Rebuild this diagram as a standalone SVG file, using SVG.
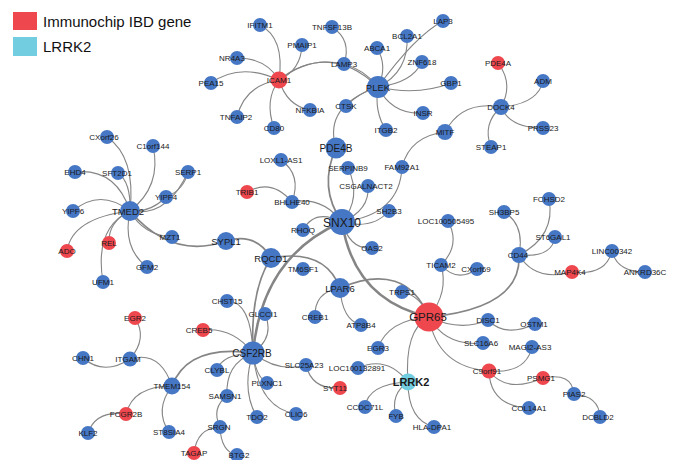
<svg xmlns="http://www.w3.org/2000/svg" width="673" height="460" viewBox="0 0 673 460">
<style>
.e{fill:none;stroke:#858585;stroke-width:1.1}
.m{stroke-width:1.7}
.t{stroke-width:2.5}
.b{fill:#4677c4}
.r{fill:#ee474e}
.c{fill:#72cde0}
text{font-family:"Liberation Sans",Arial,sans-serif;font-size:8px;fill:#1a1a1a;text-anchor:middle}
.lg{font-size:15px;text-anchor:start;fill:#111}
.l9{font-size:9.5px}
.l10{font-size:10px}
.l12{font-size:12px}
.l11{font-size:11.5px}
.bold{font-size:11px;font-weight:bold}
</style>
<rect width="673" height="460" fill="#ffffff"/>
<g id="legend">
<rect x="13" y="12" width="24" height="18" fill="#ee474e"/>
<text class="lg" x="43" y="27">Immunochip IBD gene</text>
<rect x="13" y="37" width="24" height="19" fill="#72cde0"/>
<text class="lg" x="43" y="52">LRRK2</text>
</g>
<g id="edges">
<path class="e" d="M260,25 Q285,38 279,80"/>
<path class="e" d="M302,45 Q301,70 279,80"/>
<path class="e" d="M237,58 Q266,58 279,80"/>
<path class="e" d="M211,83 Q240,62 279,80"/>
<path class="e" d="M237,117 Q245,85 279,80"/>
<path class="e" d="M274,128 Q264,100 279,80"/>
<path class="e" d="M279,80 Q287,106 310,110"/>
<path class="e" d="M279,80 Q308,56 344,64"/>
<path class="e" d="M279,80 Q330,41 378,87"/>
<path class="e" d="M344,64 Q365,70 378,87"/>
<path class="e" d="M332,27 Q352,40 344,64"/>
<path class="e" d="M377,48 Q388,66 378,87"/>
<path class="e" d="M407,36 Q409,72 378,87"/>
<path class="e" d="M422,62 Q412,83 378,87"/>
<path class="e" d="M443,21 Q415,36 378,87"/>
<path class="e" d="M378,87 Q418,96 451,83"/>
<path class="e" d="M378,87 Q392,115 423,113"/>
<path class="e" d="M378,87 Q374,112 386,130"/>
<path class="e" d="M346,106 Q360,92 378,87"/>
<path class="e" d="M336,148 Q323,106 378,87"/>
<path class="e" d="M498,63 Q514,84 501,107"/>
<path class="e" d="M543,81 Q538,104 501,107"/>
<path class="e" d="M501,107 Q510,128 543,128"/>
<path class="e" d="M501,107 Q482,124 491,147"/>
<path class="e" d="M445,132 Q462,100 501,107"/>
<path class="e" d="M445,132 Q410,136 402,167"/>
<path class="e" d="M402,167 Q400,215 342,222"/>
<path class="e m" d="M336,148 Q318,188 342,222"/>
<path class="e" d="M348,168 Q362,198 342,222"/>
<path class="e" d="M368,186 Q370,210 342,222"/>
<path class="e" d="M389,211 Q372,230 342,222"/>
<path class="e" d="M292,202 Q322,196 342,222"/>
<path class="e" d="M303,230 Q315,208 342,222"/>
<path class="e" d="M342,222 Q350,250 372,248"/>
<path class="e t" d="M342,222 Q354,300 429,317"/>
<path class="e t" d="M342,222 Q262,256 253,353"/>
<path class="e m" d="M271,258 Q250,290 253,353"/>
<path class="e" d="M281,160 Q302,175 292,202"/>
<path class="e" d="M247,192 Q272,178 292,202"/>
<path class="e m" d="M226,241 Q256,232 271,258"/>
<path class="e m" d="M130,211 Q172,260 226,241"/>
<path class="e m" d="M271,258 Q325,248 340,288"/>
<path class="e" d="M340,288 Q314,292 315,317"/>
<path class="e" d="M340,288 Q342,320 361,325"/>
<path class="e m" d="M340,288 Q405,260 429,317"/>
<path class="e" d="M402,292 Q420,295 429,317"/>
<path class="e" d="M441,265 Q449,292 429,317"/>
<path class="e m" d="M429,317 Q522,308 519,255"/>
<path class="e" d="M429,317 Q460,332 488,320"/>
<path class="e" d="M488,320 Q505,338 535,324"/>
<path class="e" d="M429,317 Q446,347 483,343"/>
<path class="e" d="M429,317 Q437,367 489,371"/>
<path class="e" d="M429,317 Q388,320 378,348"/>
<path class="e" d="M429,317 Q404,330 408,382"/>
<path class="e" d="M489,371 Q526,374 532,347"/>
<path class="e" d="M489,371 Q507,394 543,378"/>
<path class="e" d="M489,371 Q490,406 529,408"/>
<path class="e" d="M543,378 Q572,372 574,394"/>
<path class="e" d="M574,394 Q599,396 600,417"/>
<path class="e" d="M358,368 Q387,355 408,382"/>
<path class="e" d="M365,407 Q368,384 408,382"/>
<path class="e" d="M396,416 Q390,394 408,382"/>
<path class="e" d="M408,382 Q408,420 434,427"/>
<path class="e" d="M253,353 Q278,373 306,365"/>
<path class="e" d="M306,365 Q312,390 340,388"/>
<path class="e" d="M227,301 Q251,301 253,353"/>
<path class="e" d="M265,314 Q275,337 253,353"/>
<path class="e" d="M203,330 Q233,327 253,353"/>
<path class="e m" d="M172,386 Q188,344 253,353"/>
<path class="e" d="M217,370 Q222,354 253,353"/>
<path class="e" d="M227,396 Q225,364 253,353"/>
<path class="e" d="M253,353 Q256,377 267,383"/>
<path class="e" d="M253,353 Q241,390 257,417"/>
<path class="e" d="M253,353 Q258,408 296,414"/>
<path class="e" d="M227,396 Q211,408 220,427"/>
<path class="e" d="M220,427 Q197,428 194,453"/>
<path class="e" d="M220,427 Q221,452 237,455"/>
<path class="e" d="M130,359 Q160,350 172,386"/>
<path class="e" d="M172,386 Q133,386 126,414"/>
<path class="e" d="M172,386 Q154,410 169,432"/>
<path class="e" d="M135,318 Q148,338 130,359"/>
<path class="e" d="M83,358 Q104,376 130,359"/>
<path class="e" d="M126,414 Q96,410 88,433"/>
<path class="e" d="M107,137 Q136,157 130,211"/>
<path class="e" d="M153,146 Q162,186 130,211"/>
<path class="e" d="M75,172 Q116,168 130,211"/>
<path class="e" d="M118,173 Q131,182 130,211"/>
<path class="e" d="M188,172 Q184,190 166,197"/>
<path class="e" d="M166,197 Q150,213 130,211"/>
<path class="e" d="M188,172 Q167,218 130,211"/>
<path class="e" d="M73,211 Q100,188 130,211"/>
<path class="e" d="M130,211 Q143,235 172,237"/>
<path class="e" d="M67,251 Q72,218 130,211"/>
<path class="e" d="M109,243 Q108,222 130,211"/>
<path class="e" d="M103,282 Q94,228 130,211"/>
<path class="e" d="M147,267 Q122,248 130,211"/>
<path class="e" d="M448,221 Q461,245 441,265"/>
<path class="e" d="M441,265 Q457,283 477,269"/>
<path class="e" d="M504,212 Q525,225 519,255"/>
<path class="e" d="M549,199 Q556,236 519,255"/>
<path class="e" d="M555,237 Q552,258 519,255"/>
<path class="e" d="M519,255 Q535,282 572,272"/>
<path class="e" d="M572,272 Q606,276 612,251"/>
<path class="e" d="M612,251 Q617,272 645,272"/>
</g>
<g id="IFITM1"><circle class="b" cx="260" cy="25" r="7"/><text x="260" y="28">IFITM1</text></g>
<g id="PMAIP1"><circle class="b" cx="302" cy="45" r="7"/><text x="302" y="48">PMAIP1</text></g>
<g id="NR4A3"><circle class="b" cx="237" cy="58" r="7"/><text x="232" y="61">NR4A3</text></g>
<g id="PEA15"><circle class="b" cx="211" cy="83" r="7"/><text x="211" y="86">PEA15</text></g>
<g id="ICAM1"><circle class="r" cx="279" cy="80" r="8.5"/><text x="279" y="83">ICAM1</text></g>
<g id="TNFAIP2"><circle class="b" cx="237" cy="117" r="7"/><text x="236" y="120">TNFAIP2</text></g>
<g id="CD80"><circle class="b" cx="274" cy="128" r="7"/><text x="274" y="131">CD80</text></g>
<g id="NFKBIA"><circle class="b" cx="310" cy="110" r="7"/><text x="310" y="113">NFKBIA</text></g>
<g id="TNFSF13B"><circle class="b" cx="332" cy="27" r="7"/><text x="332" y="30">TNFSF13B</text></g>
<g id="LAMP3"><circle class="b" cx="344" cy="64" r="7"/><text x="344" y="67">LAMP3</text></g>
<g id="ABCA1"><circle class="b" cx="377" cy="48" r="7"/><text x="377" y="51">ABCA1</text></g>
<g id="BCL2A1"><circle class="b" cx="407" cy="36" r="7"/><text x="407" y="39">BCL2A1</text></g>
<g id="ZNF618"><circle class="b" cx="422" cy="62" r="7"/><text x="422" y="65">ZNF618</text></g>
<g id="PLEK"><circle class="b" cx="378" cy="87" r="11"/><text class="l9" x="378" y="90.5">PLEK</text></g>
<g id="CTSK"><circle class="b" cx="346" cy="106" r="7"/><text x="346" y="109">CTSK</text></g>
<g id="ITGB2"><circle class="b" cx="386" cy="130" r="7"/><text x="386" y="133">ITGB2</text></g>
<g id="INSR"><circle class="b" cx="423" cy="113" r="7"/><text x="423" y="116">INSR</text></g>
<g id="GBP1"><circle class="b" cx="451" cy="83" r="7"/><text x="451" y="86">GBP1</text></g>
<g id="LAP3"><circle class="b" cx="443" cy="21" r="7"/><text x="443" y="24">LAP3</text></g>
<g id="PDE4B"><circle class="b" cx="336" cy="148" r="10.5"/><text class="l10" x="336" y="151.5">PDE4B</text></g>
<g id="PDE4A"><circle class="r" cx="498" cy="63" r="7"/><text x="498" y="66">PDE4A</text></g>
<g id="ADM"><circle class="b" cx="543" cy="81" r="7"/><text x="543" y="84">ADM</text></g>
<g id="DOCK4"><circle class="b" cx="501" cy="107" r="8"/><text x="501" y="110">DOCK4</text></g>
<g id="PRSS23"><circle class="b" cx="543" cy="128" r="7"/><text x="543" y="131">PRSS23</text></g>
<g id="STEAP1"><circle class="b" cx="491" cy="147" r="7"/><text x="491" y="150">STEAP1</text></g>
<g id="MITF"><circle class="b" cx="445" cy="132" r="8"/><text x="445" y="135">MITF</text></g>
<g id="FAM92A1"><circle class="b" cx="402" cy="167" r="7"/><text x="402" y="170">FAM92A1</text></g>
<g id="SERPINB9"><circle class="b" cx="348" cy="168" r="7"/><text x="348" y="171">SERPINB9</text></g>
<g id="CSGALNACT2"><circle class="b" cx="368" cy="186" r="7"/><text x="366" y="189">CSGALNACT2</text></g>
<g id="LOXL1-AS1"><circle class="b" cx="281" cy="160" r="7"/><text x="281" y="163">LOXL1-AS1</text></g>
<g id="TRIB1"><circle class="r" cx="247" cy="192" r="7"/><text x="247" y="195">TRIB1</text></g>
<g id="BHLHE40"><circle class="b" cx="292" cy="202" r="7"/><text x="292" y="205">BHLHE40</text></g>
<g id="SH2B3"><circle class="b" cx="389" cy="211" r="7"/><text x="389" y="214">SH2B3</text></g>
<g id="SNX10"><circle class="b" cx="342" cy="222" r="13"/><text class="l12" x="342" y="226.5">SNX10</text></g>
<g id="RHOQ"><circle class="b" cx="303" cy="230" r="7"/><text x="303" y="233">RHOQ</text></g>
<g id="OAS2"><circle class="b" cx="372" cy="248" r="7"/><text x="372" y="251">OAS2</text></g>
<g id="SYPL1"><circle class="b" cx="226" cy="241" r="9"/><text class="l9" x="226" y="244.5">SYPL1</text></g>
<g id="RQCD1"><circle class="b" cx="271" cy="258" r="10"/><text class="l9" x="271" y="261.5">RQCD1</text></g>
<g id="TM6SF1"><circle class="b" cx="303" cy="269" r="7"/><text x="303" y="272">TM6SF1</text></g>
<g id="LPAR6"><circle class="b" cx="340" cy="288" r="10"/><text class="l9" x="340" y="291.5">LPAR6</text></g>
<g id="TRPS1"><circle class="b" cx="402" cy="292" r="7"/><text x="402" y="295">TRPS1</text></g>
<g id="LOC100505495"><circle class="b" cx="448" cy="221" r="7"/><text x="446" y="224">LOC100505495</text></g>
<g id="TICAM2"><circle class="b" cx="441" cy="265" r="7"/><text x="441" y="268">TICAM2</text></g>
<g id="CXorf69"><circle class="b" cx="477" cy="269" r="7"/><text x="476" y="272">CXorf69</text></g>
<g id="SH3BP5"><circle class="b" cx="504" cy="212" r="7"/><text x="504" y="215">SH3BP5</text></g>
<g id="FCHSD2"><circle class="b" cx="549" cy="199" r="7"/><text x="549" y="202">FCHSD2</text></g>
<g id="ST6GAL1"><circle class="b" cx="555" cy="237" r="7"/><text x="553" y="240">ST6GAL1</text></g>
<g id="CD44"><circle class="b" cx="519" cy="255" r="8"/><text x="518" y="258">CD44</text></g>
<g id="MAP4K4"><circle class="r" cx="572" cy="272" r="7"/><text x="570" y="275">MAP4K4</text></g>
<g id="LINC00342"><circle class="b" cx="612" cy="251" r="7"/><text x="612" y="254">LINC00342</text></g>
<g id="ANKRD36C"><circle class="b" cx="645" cy="272" r="7"/><text x="645" y="275">ANKRD36C</text></g>
<g id="GPR65"><circle class="r" cx="429" cy="317" r="14.5"/><text class="l11" x="428" y="321">GPR65</text></g>
<g id="DISC1"><circle class="b" cx="488" cy="320" r="7"/><text x="488" y="323">DISC1</text></g>
<g id="OSTM1"><circle class="b" cx="535" cy="324" r="7"/><text x="534" y="327">OSTM1</text></g>
<g id="SLC16A6"><circle class="b" cx="483" cy="343" r="7"/><text x="481" y="346">SLC16A6</text></g>
<g id="MAGI2-AS3"><circle class="b" cx="532" cy="347" r="7"/><text x="530" y="350">MAGI2-AS3</text></g>
<g id="C9orf91"><circle class="r" cx="489" cy="371" r="7.5"/><text x="487" y="374">C9orf91</text></g>
<g id="PSMG1"><circle class="r" cx="543" cy="378" r="7"/><text x="541" y="381">PSMG1</text></g>
<g id="PIAS2"><circle class="b" cx="574" cy="394" r="7"/><text x="574" y="397">PIAS2</text></g>
<g id="DCBLD2"><circle class="b" cx="600" cy="417" r="7"/><text x="598" y="420">DCBLD2</text></g>
<g id="COL14A1"><circle class="b" cx="529" cy="408" r="7"/><text x="529" y="411">COL14A1</text></g>
<g id="HLA-DPA1"><circle class="b" cx="434" cy="427" r="7"/><text x="432" y="430">HLA-DPA1</text></g>
<g id="LRRK2"><circle class="c" cx="408" cy="382" r="8.5"/><text class="bold" x="411" y="386">LRRK2</text></g>
<g id="EGR3"><circle class="b" cx="378" cy="348" r="7"/><text x="378" y="351">EGR3</text></g>
<g id="LOC100132891"><circle class="b" cx="358" cy="368" r="7"/><text x="357" y="371">LOC100132891</text></g>
<g id="CCDC71L"><circle class="b" cx="365" cy="407" r="7"/><text x="365" y="410">CCDC71L</text></g>
<g id="FYB"><circle class="b" cx="396" cy="416" r="7"/><text x="396" y="419">FYB</text></g>
<g id="SYT11"><circle class="r" cx="340" cy="388" r="7"/><text x="335" y="391">SYT11</text></g>
<g id="SLC25A23"><circle class="b" cx="306" cy="365" r="7"/><text x="304" y="368">SLC25A23</text></g>
<g id="CREB1"><circle class="b" cx="315" cy="317" r="7"/><text x="315" y="320">CREB1</text></g>
<g id="ATP8B4"><circle class="b" cx="361" cy="325" r="7"/><text x="361" y="328">ATP8B4</text></g>
<g id="CSF2RB"><circle class="b" cx="253" cy="353" r="11.5"/><text class="l10" x="252" y="356.5">CSF2RB</text></g>
<g id="CHST15"><circle class="b" cx="227" cy="301" r="7"/><text x="227" y="304">CHST15</text></g>
<g id="GLCCI1"><circle class="b" cx="265" cy="314" r="7"/><text x="263" y="317">GLCCI1</text></g>
<g id="CREB5"><circle class="r" cx="203" cy="330" r="7"/><text x="199" y="333">CREB5</text></g>
<g id="CLYBL"><circle class="b" cx="217" cy="370" r="7"/><text x="217" y="373">CLYBL</text></g>
<g id="PLXNC1"><circle class="b" cx="267" cy="383" r="7"/><text x="267" y="386">PLXNC1</text></g>
<g id="SAMSN1"><circle class="b" cx="227" cy="396" r="7"/><text x="225" y="399">SAMSN1</text></g>
<g id="TDO2"><circle class="b" cx="257" cy="417" r="7"/><text x="257" y="420">TDO2</text></g>
<g id="CLIC6"><circle class="b" cx="296" cy="414" r="7"/><text x="296" y="417">CLIC6</text></g>
<g id="SRGN"><circle class="b" cx="220" cy="427" r="7"/><text x="219" y="430">SRGN</text></g>
<g id="BTG2"><circle class="b" cx="237" cy="455" r="7"/><text x="239" y="458">BTG2</text></g>
<g id="TAGAP"><circle class="r" cx="194" cy="453" r="7"/><text x="194" y="456">TAGAP</text></g>
<g id="EGR2"><circle class="r" cx="135" cy="318" r="7"/><text x="135" y="321">EGR2</text></g>
<g id="CHN1"><circle class="b" cx="83" cy="358" r="7"/><text x="83" y="361">CHN1</text></g>
<g id="ITGAM"><circle class="b" cx="130" cy="359" r="7.5"/><text x="128" y="362">ITGAM</text></g>
<g id="TMEM154"><circle class="b" cx="172" cy="386" r="8.5"/><text x="172" y="389">TMEM154</text></g>
<g id="FCGR2B"><circle class="r" cx="126" cy="414" r="7"/><text x="126" y="417">FCGR2B</text></g>
<g id="KLF2"><circle class="b" cx="88" cy="433" r="7"/><text x="88" y="436">KLF2</text></g>
<g id="ST8SIA4"><circle class="b" cx="169" cy="432" r="7"/><text x="169" y="435">ST8SIA4</text></g>
<g id="CXorf26"><circle class="b" cx="107" cy="137" r="7"/><text x="104" y="140">CXorf26</text></g>
<g id="C1orf144"><circle class="b" cx="153" cy="146" r="7"/><text x="153" y="149">C1orf144</text></g>
<g id="EHD4"><circle class="b" cx="75" cy="172" r="7"/><text x="75" y="175">EHD4</text></g>
<g id="SFT2D1"><circle class="b" cx="118" cy="173" r="7"/><text x="117" y="176">SFT2D1</text></g>
<g id="SERP1"><circle class="b" cx="188" cy="172" r="7"/><text x="188" y="175">SERP1</text></g>
<g id="YIPF4"><circle class="b" cx="166" cy="197" r="7"/><text x="166" y="200">YIPF4</text></g>
<g id="TMED2"><circle class="b" cx="130" cy="211" r="10"/><text class="l9" x="128" y="214.5">TMED2</text></g>
<g id="YIPF6"><circle class="b" cx="73" cy="211" r="7"/><text x="73" y="214">YIPF6</text></g>
<g id="MZT1"><circle class="b" cx="172" cy="237" r="7"/><text x="170" y="240">MZT1</text></g>
<g id="ADO"><circle class="r" cx="67" cy="251" r="7"/><text x="67" y="254">ADO</text></g>
<g id="REL"><circle class="r" cx="109" cy="243" r="7"/><text x="109" y="246">REL</text></g>
<g id="GFM2"><circle class="b" cx="147" cy="267" r="7"/><text x="147" y="270">GFM2</text></g>
<g id="UFM1"><circle class="b" cx="103" cy="282" r="7"/><text x="103" y="285">UFM1</text></g>
</svg>
